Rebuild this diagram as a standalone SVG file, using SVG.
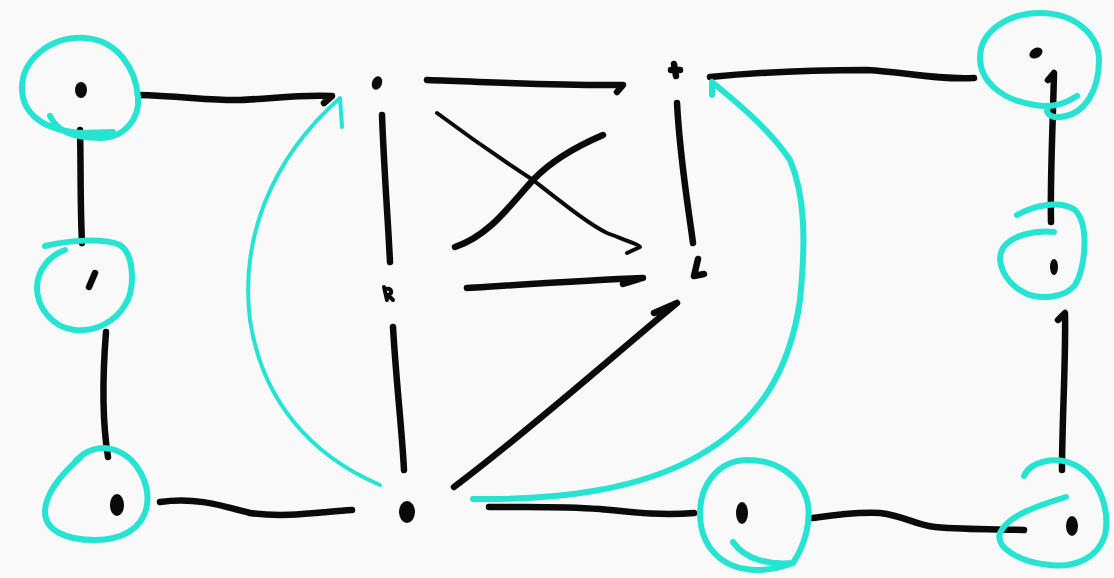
<svg xmlns="http://www.w3.org/2000/svg" width="1114" height="578" viewBox="0 0 1114 578">
<style>
.ln{fill:none;stroke:#0a0a0a;stroke-width:6.5;stroke-linecap:round;stroke-linejoin:round}
.thin{stroke-width:4}
.ring{fill:none;stroke:#27e3d2;stroke-width:6;stroke-linecap:round;stroke-linejoin:round}
.arc{fill:none;stroke:#27e3d2;stroke-linecap:round;stroke-linejoin:round}
.dot{fill:#0a0a0a}
</style>
<rect width="1114" height="578" fill="#f9f9f9"/>
<g id="connectors">
<path class="ln" d="M138,95 C180,96 215,101 240,100 C270,99 300,94 332,96 L324,103"/>
<path class="ln" d="M80,130 C81,165 80,200 82,243"/>
<path class="ln" d="M106,332 C103,370 102,420 108,457"/>
<path class="ln" d="M160,502 C195,497 220,505 250,513 C285,518 320,512 352,510"/>
<path class="ln" d="M427,80 C490,82 560,86 623,85 L617,92"/>
<path class="ln" d="M382,115 C384,170 388,220 390,262"/>
<path class="ln thin" d="M437,113 C480,145 510,165 533,180 C565,205 590,225 607,233 C625,240 640,245 640,247 L627,253"/>
<path class="ln" d="M455,247 C490,235 510,205 533,180 C550,162 575,147 603,135"/>
<path class="ln" d="M467,288 C530,284 590,280 643,278 L623,284"/>
<path class="ln" d="M677,103 C680,160 688,205 693,243"/>
<path class="ln" d="M677,303 L654,313 M677,303 C620,350 530,430 454,487"/>
<path class="ln" d="M393,327 C396,380 402,430 404,470"/>
<path class="ln" d="M710,77 C760,72 820,70 867,70 C905,72 935,80 974,78"/>
<path class="ln" d="M1048,80 L1054,73 C1053,120 1050,180 1051,222"/>
<path class="ln" d="M1058,320 L1065,313 C1066,360 1062,420 1062,470"/>
<path class="ln" d="M489,507 C530,507 560,506 600,509 C630,512 660,516 694,513"/>
<path class="ln" d="M813,518 C840,514 860,512 880,513 C905,516 915,525 935,527 C970,530 1000,529 1024,530"/>
<path class="arc" stroke-width="4" d="M380,485 C310,455 262,400 250,320 C240,240 270,160 340,98 L342,127"/>
<path class="arc" stroke-width="6" d="M473,499 C560,500 640,490 700,455 C760,420 790,370 800,300 C806,240 805,195 790,160 C770,130 740,105 712,82 L712,95"/>
</g>
<g id="n-a">
<path class="ring" d="M50,116 C58,132 72,137 100,138 C125,138 140,118 138,97 C136,70 118,40 85,38 C50,36 22,60 22,88 C22,115 45,130 80,133 L113,132"/>
<ellipse class="dot" cx="81" cy="90" rx="6" ry="8"/>
</g>
<g id="n-b">
<path class="ring" d="M45,246 C70,240 105,238 120,245 C135,255 135,290 125,305 C115,322 95,332 75,330 C50,327 37,305 37,288 C37,270 50,255 65,250"/>
<path class="ln" d="M95,273 L89,287"/>
</g>
<g id="n-c">
<path class="ring" d="M75,462 C85,450 100,445 115,450 C138,458 150,485 147,505 C143,530 120,540 95,540 C65,540 45,530 45,512 C45,495 60,475 80,458"/>
<ellipse class="dot" cx="117" cy="505" rx="7" ry="11"/>
</g>
<g id="n-d"><ellipse class="dot" cx="377" cy="83" rx="5" ry="7" transform="rotate(20 377 83)"/></g>
<g id="n-e"><path class="ln thin" d="M384,287 L387,300 M386,289 C392,288 393,294 388,295 L393,300"/></g>
<g id="n-f"><ellipse class="dot" cx="407" cy="512" rx="8" ry="11"/></g>
<g id="n-g"><path class="ln" d="M674,64 L676,76 M671,70 L680,70"/></g>
<g id="n-h"><path class="ln" d="M698,259 L694,276 L704,274"/></g>
<g id="n-i">
<path class="ring" d="M1077,96 C1065,104 1050,108 1035,105 C1000,100 980,80 980,58 C980,30 1010,13 1040,13 C1075,13 1099,35 1099,60 C1099,90 1085,115 1060,117 C1050,118 1045,113 1048,108"/>
<ellipse class="dot" cx="1036" cy="53" rx="7" ry="5" transform="rotate(-30 1036 53)"/>
</g>
<g id="n-j">
<path class="ring" d="M1017,215 C1035,205 1060,200 1075,210 C1090,225 1085,270 1075,285 C1065,298 1040,300 1025,293 C1005,283 995,262 1003,248 C1012,235 1035,230 1054,232"/>
<ellipse class="dot" cx="1054" cy="267" rx="4" ry="8"/>
</g>
<g id="n-k">
<path class="ring" d="M1024,476 C1030,462 1055,455 1075,465 C1100,478 1110,510 1105,535 C1098,558 1075,568 1050,565 C1020,562 995,548 1000,533 C1008,515 1040,505 1066,497"/>
<ellipse class="dot" cx="1072" cy="526" rx="6" ry="10"/>
</g>
<g id="n-l">
<path class="ring" d="M733,542 C745,560 770,565 793,563 C805,545 812,520 807,500 C800,475 775,460 748,460 C718,460 700,485 700,513 C700,545 720,570 758,570 C770,570 785,566 793,563"/>
<ellipse class="dot" cx="742" cy="513" rx="6" ry="11"/>
</g>
</svg>
